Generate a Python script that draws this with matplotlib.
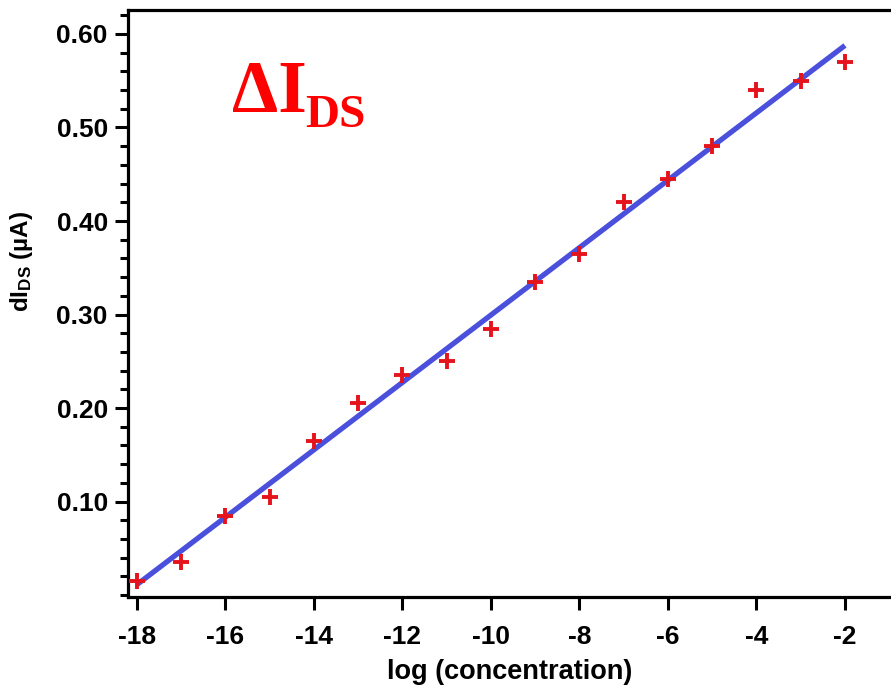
import numpy as np
import matplotlib
matplotlib.use('Agg')
import matplotlib.pyplot as plt
from matplotlib.ticker import MultipleLocator

plt.rcParams['font.family'] = ['Liberation Sans', 'DejaVu Sans']
plt.rcParams['mathtext.fontset'] = 'custom'
plt.rcParams['mathtext.bf'] = 'Liberation Sans:bold'
plt.rcParams['mathtext.rm'] = 'Liberation Sans'

# data
log_conc = [-18, -17, -16, -15, -14, -13, -12, -11, -10, -9, -8, -7, -6, -5, -4, -3, -2]
d_ids = [0.015, 0.035, 0.085, 0.105, 0.165, 0.205, 0.235, 0.250, 0.285, 0.335,
         0.365, 0.420, 0.445, 0.480, 0.540, 0.550, 0.570]

# linear fit line end points
fit_x = [-18, -2]
fit_y = [0.0112, 0.5877]

x_ticks = [-18, -16, -14, -12, -10, -8, -6, -4, -2]
y_ticks = [0.10, 0.20, 0.30, 0.40, 0.50, 0.60]

fig = plt.figure(figsize=(8.91, 6.89), dpi=100)
ax = fig.add_axes([128 / 891, 92 / 689, 1 - 128 / 891, 587 / 689])

ax.plot(fit_x, fit_y, '-', color='#4a50dc', lw=3.8, solid_capstyle='butt', zorder=2)
ax.plot(log_conc, d_ids, '+', color='#e5141c', ms=12, mew=2.8, zorder=3)

ax.set_xlim(-18.2, -0.96)
ax.set_ylim(-0.002, 0.6256)
ax.set_xticks(x_ticks)
ax.set_xticklabels([str(t) for t in x_ticks])
ax.set_yticks(y_ticks)
ax.set_yticklabels(['%.2f' % t for t in y_ticks])
ax.yaxis.set_minor_locator(MultipleLocator(0.02))

for side in ['left', 'bottom', 'top']:
    ax.spines[side].set_linewidth(2.3)
ax.spines['right'].set_visible(False)

ax.tick_params(axis='both', which='major', direction='out', length=9.5, width=2.2,
               labelsize=19)
ax.tick_params(axis='y', which='major', pad=5)
ax.tick_params(axis='x', which='major', pad=11)
ax.tick_params(axis='y', which='minor', direction='out', length=6, width=2.2)
for lab in ax.get_xticklabels() + ax.get_yticklabels():
    lab.set_fontweight('bold')

ax.set_xlabel('log (concentration)', fontsize=19.5, fontweight='bold', labelpad=7)
ax.set_ylabel(r'dI$\mathbf{_{DS}}$ (µA)', fontsize=17.5, fontweight='bold')
ax.yaxis.set_label_coords(-0.122, 0.572)

# red annotation
fig.text(232 / 891, 1 - 112 / 689, 'ΔI', color='#ff0000', fontsize=53,
         fontweight='bold', family='Liberation Serif', ha='left', va='baseline')
fig.text(305 / 891, 1 - 127 / 689, 'DS', color='#ff0000', fontsize=34,
         fontweight='bold', family='Liberation Serif', ha='left', va='baseline')

plt.savefig('out.png', dpi=100)
